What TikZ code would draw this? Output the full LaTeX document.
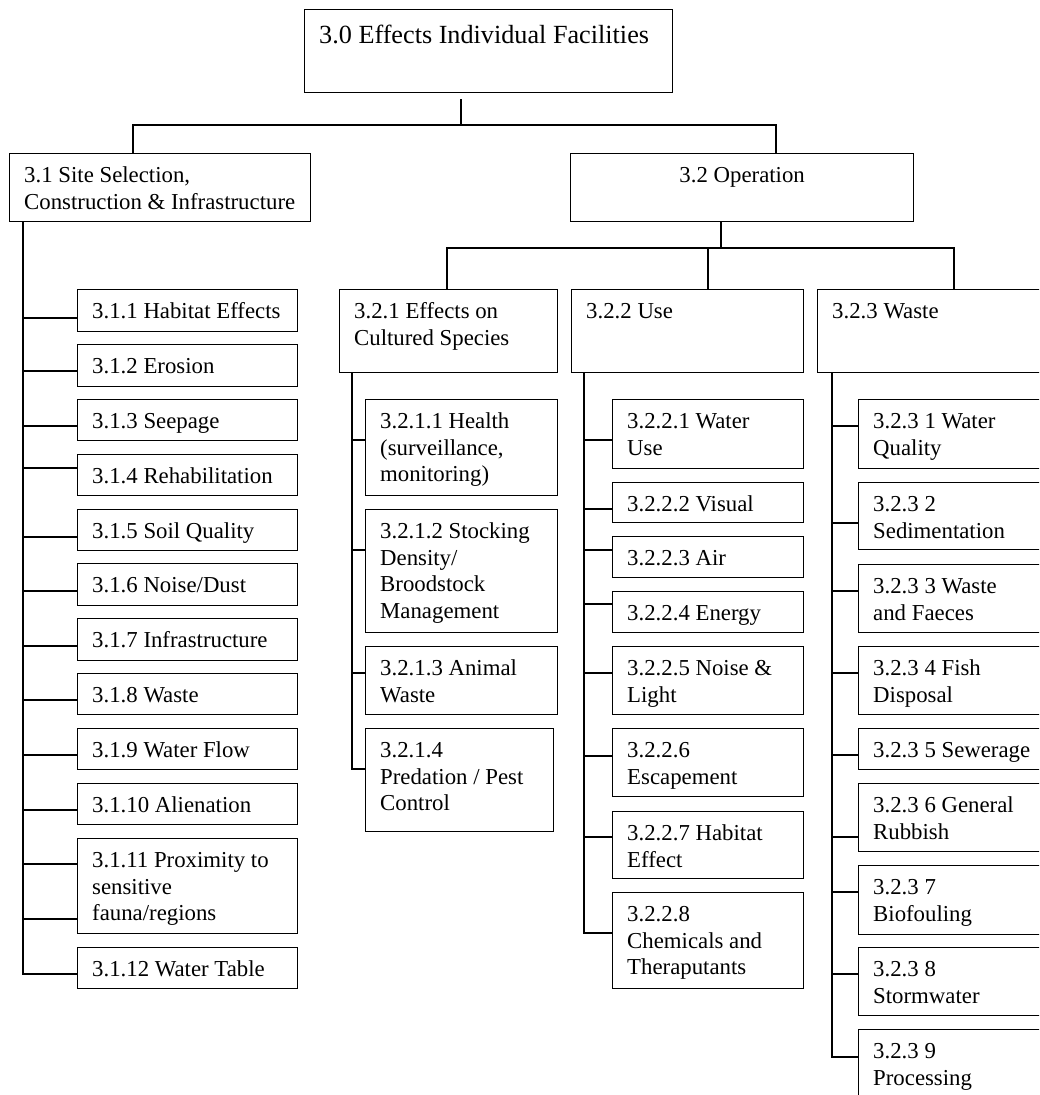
\documentclass[tikz,border=0pt]{standalone}
\usepackage{fontspec}
\setmainfont{Liberation Serif}
\usetikzlibrary{calc}

\tikzset{
  boxst/.style={draw=black, line width=1.3pt, rectangle, inner sep=0pt, anchor=north west, fill=white},
  txtst/.style={inner sep=0pt, anchor=base west, font=\fontsize{22.8}{26.6}\selectfont},
  link/.style={draw=black, line width=1.3pt}
}

% box: name, x1, y1, x2, y2, text
\newcommand\ebox[6]{%
  \node[boxst, minimum width={(#4-#2)*1pt}, minimum height={(#5-#3)*1pt}] (#1) at (#2,#3) {};
  \node[txtst] (#1t) at ([shift={(15,29.5)}]#1.north west) {\parbox[t]{400pt}{\raggedright #6}};
}
% stub from a spine coordinate to a child box at height y
\newcommand\kid[3]{\draw[link] (#1) |- (#2.west |- 0,#3);}

\begin{document}
\begin{tikzpicture}[x=1pt, y=-1pt]
\clip (0,0) rectangle (1039,1095);
\fill[white] (0,0) rectangle (1039,1095);

% level 0
\node[boxst, minimum width=368pt, minimum height=83pt] (top) at (304,9) {};
\node[inner sep=0pt, anchor=base west, font=\fontsize{26.2}{30}\selectfont] (topt)
  at ([shift={(15,34)}]top.north west) {3.0 Effects Individual Facilities};

% level 1
\ebox{b31}{9}{153}{310}{221}{3.1 Site Selection,\\Construction \& Infrastructure}
\node[boxst, minimum width=343pt, minimum height=68pt] (b32) at (570,153) {};
\node[txtst, anchor=base] (b32t) at ([shift={(0,29)}]b32.north) {3.2 Operation};

\coordinate (j0) at ([yshift=-6pt]top.south -| 461,0);
\coordinate (h0) at (461,125);
\draw[link] (j0) -- (h0);
\draw[link] (h0) -| (b31.north -| 133,0);
\draw[link] (h0) -| (b32.north -| 776,0);

% level 2
\ebox{b321}{339}{289}{557}{372}{3.2.1 Effects on\\Cultured Species}
\ebox{b322}{571}{289}{803}{372}{3.2.2 Use}
\ebox{b323}{817}{289}{1045}{372}{3.2.3 Waste}

\coordinate (h1) at (721,248);
\draw[link] (b32.south -| h1) -- (h1);
\draw[link] (h1) -| (b321.north -| 447,0);
\draw[link] (h1) -| (b322.north -| 708,0);
\draw[link] (h1) -| (b323.north -| 954,0);

% 3.1 children
\ebox{b311}{77}{289}{297}{331}{3.1.1 Habitat Effects}
\ebox{b312}{77}{344}{297}{386}{3.1.2 Erosion}
\ebox{b313}{77}{399}{297}{440}{3.1.3 Seepage}
\ebox{b314}{77}{454}{297}{495}{3.1.4 Rehabilitation}
\ebox{b315}{77}{509}{297}{550}{3.1.5 Soil Quality}
\ebox{b316}{77}{563}{297}{605}{3.1.6 Noise/Dust}
\ebox{b317}{77}{618}{297}{660}{3.1.7 Infrastructure}
\ebox{b318}{77}{673}{297}{714}{3.1.8 Waste}
\ebox{b319}{77}{728}{297}{769}{3.1.9 Water Flow}
\ebox{b3110}{77}{783}{297}{824}{3.1.10 Alienation}
\ebox{b3111}{77}{838}{297}{933}{3.1.11 Proximity to\\sensitive\\fauna/regions}
\ebox{b3112}{77}{947}{297}{988}{3.1.12 Water Table}

\coordinate (s31) at (b31.south -| 23,0);
\kid{s31}{b311}{318}
\kid{s31}{b312}{371}
\kid{s31}{b313}{426}
\kid{s31}{b314}{468}
\kid{s31}{b315}{537}
\kid{s31}{b316}{591}
\kid{s31}{b317}{646}
\kid{s31}{b318}{700}
\kid{s31}{b319}{755}
\kid{s31}{b3110}{810}
\kid{s31}{b3111}{864}
\kid{s31}{b3111}{919}
\kid{s31}{b3112}{974}

% 3.2.1 children
\ebox{b3211}{365}{399}{557}{495}{3.2.1.1 Health\\(surveillance,\\monitoring)}
\ebox{b3212}{365}{509}{557}{632}{3.2.1.2 Stocking\\Density/\\Broodstock\\Management}
\ebox{b3213}{365}{646}{557}{714}{3.2.1.3 Animal\\Waste}
\ebox{b3214}{365}{728}{553}{831}{3.2.1.4\\Predation / Pest\\Control}

\coordinate (s321) at (b321.south -| 352,0);
\kid{s321}{b3211}{440}
\kid{s321}{b3212}{550}
\kid{s321}{b3213}{673}
\kid{s321}{b3214}{769}

% 3.2.2 children
\ebox{b3221}{612}{399}{803}{468}{3.2.2.1 Water\\Use}
\ebox{b3222}{612}{482}{803}{522}{3.2.2.2 Visual}
\ebox{b3223}{612}{536}{803}{577}{3.2.2.3 Air}
\ebox{b3224}{612}{591}{803}{632}{3.2.2.4 Energy}
\ebox{b3225}{612}{646}{803}{714}{3.2.2.5 Noise \&\\Light}
\ebox{b3226}{612}{728}{803}{796}{3.2.2.6\\Escapement}
\ebox{b3227}{612}{811}{803}{878}{3.2.2.7 Habitat\\Effect}
\ebox{b3228}{612}{892}{803}{988}{3.2.2.8\\Chemicals and\\Theraputants}

\coordinate (s322) at (b322.south -| 584,0);
\kid{s322}{b3221}{440}
\kid{s322}{b3222}{509}
\kid{s322}{b3223}{550}
\kid{s322}{b3224}{604}
\kid{s322}{b3225}{673}
\kid{s322}{b3226}{756}
\kid{s322}{b3227}{837}
\kid{s322}{b3228}{933}

% 3.2.3 children
\ebox{b3231}{858}{399}{1045}{468}{3.2.3 1 Water\\Quality}
\ebox{b3232}{858}{482}{1045}{549}{3.2.3 2\\Sedimentation}
\ebox{b3233}{858}{564}{1045}{632}{3.2.3 3 Waste\\and Faeces}
\ebox{b3234}{858}{646}{1045}{714}{3.2.3 4 Fish\\Disposal}
\ebox{b3235}{858}{728}{1045}{769}{3.2.3 5 Sewerage}
\ebox{b3236}{858}{783}{1045}{851}{3.2.3 6 General\\Rubbish}
\ebox{b3237}{858}{865}{1045}{934}{3.2.3 7\\Biofouling}
\ebox{b3238}{858}{947}{1045}{1015}{3.2.3 8\\Stormwater}
\ebox{b3239}{858}{1029}{1045}{1105}{3.2.3 9\\Processing}

\coordinate (s323) at (b323.south -| 832,0);
\kid{s323}{b3231}{426}
\kid{s323}{b3232}{523}
\kid{s323}{b3233}{591}
\kid{s323}{b3234}{673}
\kid{s323}{b3235}{755}
\kid{s323}{b3236}{837}
\kid{s323}{b3237}{892}
\kid{s323}{b3238}{974}
\kid{s323}{b3239}{1057}
\end{tikzpicture}
\end{document}
